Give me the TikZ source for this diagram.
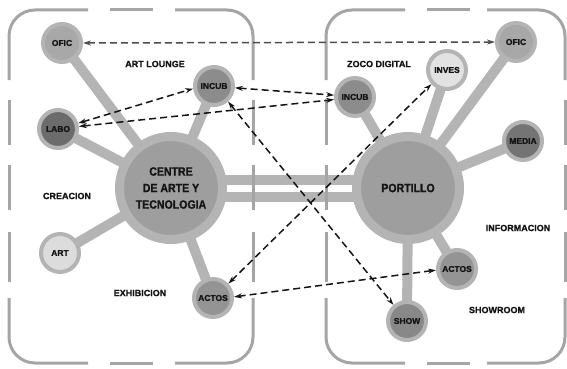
\documentclass[tikz,border=0pt]{standalone}
\usepackage{fontspec}
\setmainfont{Liberation Sans}[BoldFeatures={FakeBold=1.2}]
\newfontfamily\hubfont{Liberation Sans}[FakeStretch=0.88, BoldFeatures={FakeBold=1.2}]
\usetikzlibrary{arrows.meta,backgrounds}

\definecolor{ringgray}{RGB}{180,180,180}
\definecolor{boxgray}{RGB}{165,165,165}
\definecolor{hubfill}{RGB}{158,158,158}
\definecolor{ink}{RGB}{20,20,20}

\tikzset{
  spot/.style={circle, draw=ringgray, line width=4pt, minimum size=38pt, inner sep=0pt,
    text=ink, font=\fontsize{8.5}{9}\selectfont\bfseries},
  hub/.style={circle, draw=ringgray, line width=9pt, fill=hubfill, minimum size=103pt,
    inner sep=0pt, align=center, text=ink, font=\hubfont\bfseries\fontsize{12}{16.5}\selectfont},
  zone/.style={text=ink, font=\fontsize{9}{10}\selectfont\bfseries},
  spoke/.style={ringgray, line width=10pt},
  boxline/.style={boxgray, line width=3pt},
  link/.style={<->, >={Stealth[length=8pt,width=5pt]}, ink, line width=1.5pt,
    dash pattern=on 7pt off 4pt}
}

\begin{document}
\begin{tikzpicture}[x=1pt, y=-1pt]
  \useasboundingbox (0,0) rectangle (567,369);

  % Zones
  \foreach \xa/\xb in {9/253, 326/565} {
    \draw[boxline, rounded corners=26pt] (\xa,80) -- (\xa,10) -- ({\xa+79},10);
    \draw[boxline, rounded corners=26pt] ({\xb-78},10) -- (\xb,10) -- (\xb,80);
    \draw[boxline, rounded corners=26pt] (\xa,298) -- (\xa,363) -- ({\xa+79},363);
    \draw[boxline, rounded corners=26pt] ({\xb-78},363) -- (\xb,363) -- (\xb,298);
    \draw[boxline] ({\xa+101},10) -- ({\xa+144},10) ({\xa+101},363) -- ({\xa+144},363);
    \foreach \ya/\yb in {100/145, 165/210, 232/282}
      \draw[boxline] (\xa,\ya) -- (\xa,\yb) (\xb,\ya) -- (\xb,\yb);
  }

  % Hubs
  \node[hub] (centre) at (171,188) {CENTRE\\DE ARTE Y\\TECNOLOGIA};
  \node[hub] (port) at (408,188) {PORTILLO};

  % Rooms
  \node[spot, fill={rgb,255:red,168;green,168;blue,168}] (ofcL) at (62,43) {OFIC};
  \node[spot, fill={rgb,255:red,140;green,140;blue,140}] (incubL) at (214,86) {INCUB};
  \node[spot, fill={rgb,255:red,108;green,108;blue,108}] (labo) at (58,129) {LABO};
  \node[spot, fill={rgb,255:red,220;green,220;blue,220}] (art) at (60,253) {ART};
  \node[spot, fill={rgb,255:red,148;green,148;blue,148}] (actosL) at (213,298) {ACTOS};
  \node[spot, fill={rgb,255:red,140;green,140;blue,140}] (incubR) at (355,97) {INCUB};
  \node[spot, fill={rgb,255:red,226;green,226;blue,226}] (inves) at (447,70) {INVES};
  \node[spot, fill={rgb,255:red,168;green,168;blue,168}] (ofcR) at (516,42) {OFIC};
  \node[spot, fill={rgb,255:red,116;green,116;blue,116}] (media) at (523,141) {MEDIA};
  \node[spot, fill={rgb,255:red,148;green,148;blue,148}] (actosR) at (457,269) {ACTOS};
  \node[spot, fill={rgb,255:red,136;green,136;blue,136}] (show) at (407,321) {SHOW};

  % Zone names
  \node[zone] (lounge) at (155,64) {ART LOUNGE};
  \node[zone] (creacion) at (67,196) {CREACION};
  \node[zone] (exhib) at (140,293) {EXHIBICION};
  \node[zone] (zoco) at (379,64) {ZOCO DIGITAL};
  \node[zone] (informa) at (518,228) {INFORMACION};
  \node[zone] (showroom) at (497,310) {SHOWROOM};

  % Spokes
  \begin{scope}[on background layer]
    \foreach \r in {ofcL, incubL, labo, art, actosL}
      \draw[spoke] (centre.center) -- (\r.center);
    \foreach \r in {incubR, inves, ofcR, media, actosR, show}
      \draw[spoke] (port.center) -- (\r.center);
    \draw[spoke] ([yshift=8pt]centre.center) -- ([yshift=8pt]port.center);
    \draw[spoke] ([yshift=-9pt]centre.center) -- ([yshift=-9pt]port.center);
  \end{scope}

  % Links
  \draw[link, black!70] (ofcL.east) -- (ofcR.west);
  \draw[link] (labo.16) -- (incubL.187);
  \draw[link] (labo.7) -- (incubR.187);
  \draw[link] (incubL.355) -- (incubR.175);
  \draw[link] (incubL.-48) -- (show.130);
  \draw[link] (actosL.43) -- (inves.222);
  \draw[link] (actosL.3) -- (actosR.183);
\end{tikzpicture}
\end{document}
